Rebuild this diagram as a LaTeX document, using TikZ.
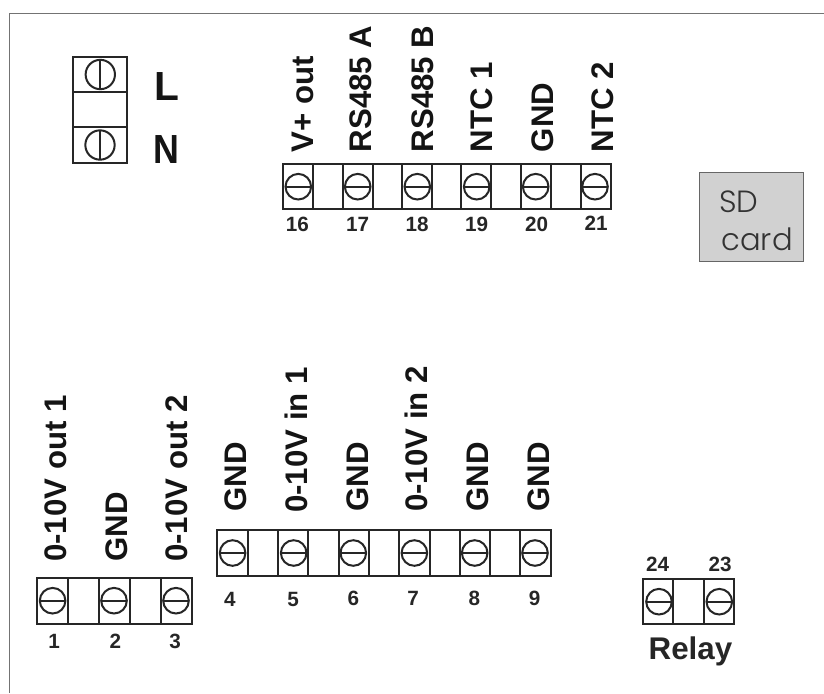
\documentclass[tikz,border=0pt]{standalone}
\usepackage{fontspec}
\setmainfont{Liberation Sans}
\newfontfamily\sdfont[UprightFont=* Light]{Poppins}
\tikzset{
 px/.style={x=0.75pt,y=-0.75pt},
 wire/.style={draw=black!85,line width=1.5pt},
 vlab/.style={rotate=90,anchor=base west,inner sep=0pt,font=\fontsize{23.4}{25}\selectfont\bfseries,text=black!92},
 numlab/.style={anchor=base,inner sep=0pt,font=\fontsize{15.5}{17}\selectfont\bfseries,text=black!85},
 big/.style={anchor=base,inner sep=0pt,font=\fontsize{30.5}{33}\selectfont\bfseries,text=black!92},
 sdtext/.style={inner sep=0pt,font=\sdfont\fontsize{23}{25}\selectfont,text=black!80},
}
\newcommand{\hscrew}[2]{\draw[wire] (#1,#2) circle[radius=9.6pt]; \draw[wire] (#1-12.8,#2) -- (#1+12.8,#2);}
\newcommand{\vscrew}[2]{\draw[wire] (#1,#2) circle[radius=11pt]; \draw[wire] (#1,#2-14.7) -- (#1,#2+14.7);}
\begin{document}
\begin{tikzpicture}[px]
\useasboundingbox (0,0) rectangle (824,693);
\fill[white] (0,0) rectangle (824,693);
\draw[black!55,line width=0.9pt] (824,13.3) -- (9.3,13.3) -- (9.3,693);
% L N block
\draw[wire] (73.3,57.3) rectangle (126.7,162.7);
\draw[wire] (73.3,92.3) -- (126.7,92.3) (73.3,127.3) -- (126.7,127.3);
\vscrew{100.3}{74.5}\vscrew{100}{145}
\node[big] (L) at (167,100) {L};
\node[big,xscale=.88] (N) at (166.5,163) {N};
% top strip
\draw[wire] (283.3,164) rectangle (610.5,209);
\foreach \x in {313.3,342.7,372.7,402.3,432,461.3,491,520.7,551,580.7} \draw[wire] (\x,164) -- (\x,209);
\foreach \x in {298.3,357.7,417.3,476.7,535.7,595} {\hscrew{\x}{186.7}}
\foreach \x/\n/\t in {313.3/16/V+ out,371.7/17/RS485 A,433/18/RS485 B,492.7/19/NTC 1,553.3/20/GND,613/21/NTC 2}
 \node[vlab] (t\n) at (\x,152.5) {\t};
\foreach \x/\n/\y in {297.3/16/231,357.7/17/231,417/18/231,476.7/19/231,536.7/20/231,596/21/230}
 \node[numlab] (n\n) at (\x,\y) {\n};
% bottom-left strip
\draw[wire] (36.5,578) rectangle (192.3,624);
\foreach \x in {68,99.3,130.2,161} \draw[wire] (\x,578) -- (\x,624);
\foreach \x in {52.6,114,176} {\hscrew{\x}{600.7}}
\foreach \x/\n/\t in {66.3/1/0-10V out 1,127/2/GND,187.7/3/0-10V out 2}
 \node[vlab] (t\n) at (\x,562) {\t};
\foreach \x/\n in {54/1,115.4/2,175/3}
 \node[numlab] (n\n) at (\x,648.3) {\n};
% middle strip
\draw[wire] (217.2,530) rectangle (551,576);
\foreach \x in {248,278,308.4,338.6,369,399.3,430,459.6,490,520} \draw[wire] (\x,530) -- (\x,576);
\foreach \x in {232.6,293.7,353.3,414.4,474.7,535} {\hscrew{\x}{553}}
\foreach \x/\n/\t/\y in {246.3/4/GND/512,307.7/5/0-10V in 1/513,368.4/6/GND/512,427.7/7/0-10V in 2/512,488.7/8/GND/512,549.8/9/GND/512}
 \node[vlab] (t\n) at (\x,\y) {\t};
\foreach \x/\n/\y in {229.8/4/606,293/5/606,353.3/6/605,413/7/605,474.4/8/605,534.7/9/605}
 \node[numlab] (n\n) at (\x,\y) {\n};
% relay
\draw[wire] (643.3,579) rectangle (734.3,624.3);
\foreach \x in {673.3,704.3} \draw[wire] (\x,579) -- (\x,624.3);
\foreach \x in {659,719.3} {\hscrew{\x}{601.7}}
\node[numlab] (n24) at (657.7,571) {24};
\node[numlab] (n23) at (720,571) {23};
\node[anchor=base,inner sep=0pt,font=\fontsize{23.5}{25}\selectfont\bfseries,text=black!85] (relay) at (690.5,659) {Relay};
% SD
\node[draw=black!60,fill=black!18,line width=0.8pt,minimum width=78pt,minimum height=67pt,inner sep=0pt,anchor=north west] (sd) at (698.7,171.7) {};
\node[sdtext,anchor=base west] (sdt) at (719,212) {SD};
\node[sdtext,anchor=base east] (cardt) at (793,250) {card};
\end{tikzpicture}
\end{document}
